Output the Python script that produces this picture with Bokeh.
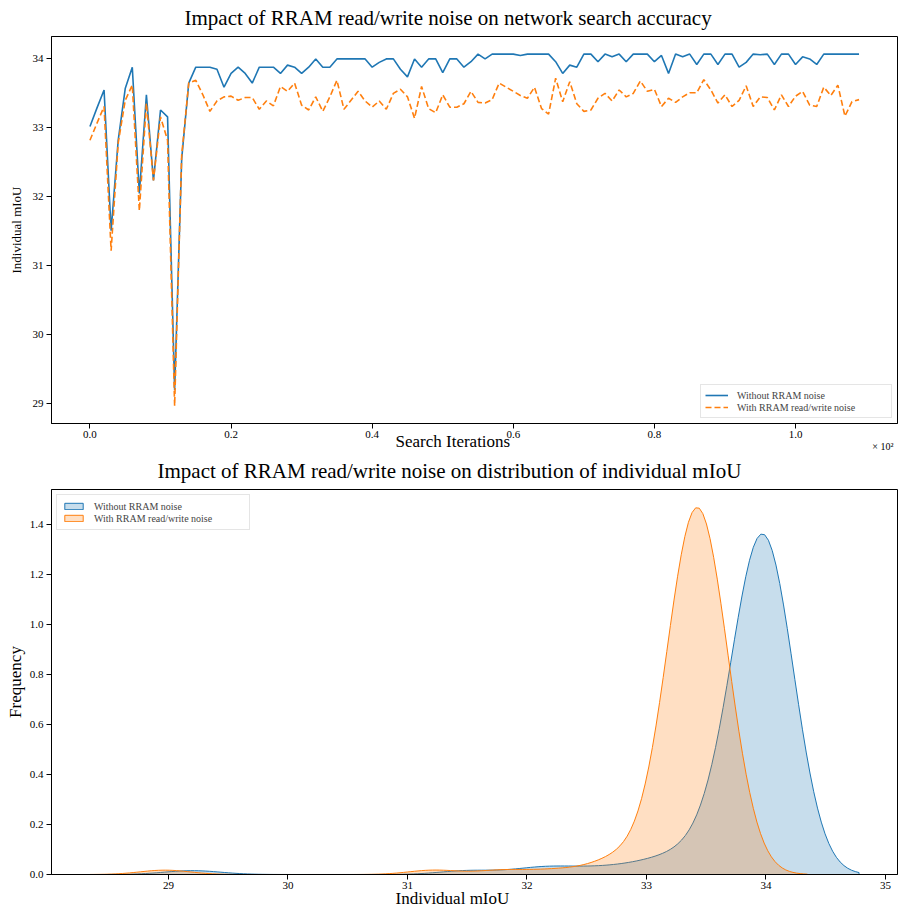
import numpy as np
from bokeh.plotting import figure
from bokeh.models import Range1d, Legend, FixedTicker, PrintfTickFormatter, Title
from bokeh.layouts import column
from bokeh.embed import file_html
from bokeh.resources import INLINE

# ---------------- data ----------------
iterations = list(range(110))

miou_clean = [
    33.02, 33.29, 33.55, 31.51, 32.82, 33.57, 33.88, 32.05, 33.48, 32.24,
    33.26, 33.16, 29.20, 32.55, 33.65, 33.88, 33.88, 33.88, 33.85, 33.59,
    33.79, 33.88, 33.79, 33.65, 33.88, 33.88, 33.88, 33.79, 33.91, 33.88,
    33.79, 33.88, 34.00, 33.88, 33.88, 34.00, 34.00, 34.00, 34.00, 34.00,
    33.88, 33.95, 34.00, 34.00, 33.85, 33.74, 34.00, 33.88, 34.00, 34.00,
    33.80, 34.00, 34.00, 33.88, 33.96, 34.07, 34.00, 34.07, 34.07, 34.07,
    34.07, 34.05, 34.07, 34.07, 34.07, 34.07, 33.96, 33.79, 33.91, 33.88,
    34.07, 34.07, 33.96, 34.07, 34.03, 34.07, 33.96, 34.07, 34.07, 34.07,
    33.96, 34.05, 33.79, 34.07, 34.03, 34.07, 33.92, 34.07, 34.07, 33.92,
    34.07, 34.07, 33.88, 33.95, 34.07, 34.06, 34.07, 33.92, 34.07, 34.07,
    33.92, 34.03, 34.00, 33.92, 34.07, 34.07, 34.07, 34.07, 34.07, 34.07,
]

miou_noisy = [
    32.82, 33.07, 33.31, 31.22, 32.78, 33.40, 33.62, 31.80, 33.36, 32.24,
    33.16, 32.82, 28.97, 32.60, 33.65, 33.69, 33.48, 33.24, 33.39, 33.45,
    33.46, 33.40, 33.44, 33.44, 33.27, 33.39, 33.32, 33.60, 33.53, 33.65,
    33.33, 33.26, 33.45, 33.24, 33.45, 33.69, 33.27, 33.40, 33.53, 33.39,
    33.30, 33.39, 33.27, 33.50, 33.56, 33.45, 33.14, 33.60, 33.28, 33.22,
    33.48, 33.30, 33.30, 33.35, 33.53, 33.37, 33.36, 33.41, 33.65, 33.59,
    33.53, 33.47, 33.43, 33.59, 33.28, 33.20, 33.72, 33.38, 33.67, 33.35,
    33.24, 33.26, 33.43, 33.50, 33.39, 33.55, 33.45, 33.50, 33.68, 33.53,
    33.56, 33.31, 33.43, 33.37, 33.45, 33.51, 33.51, 33.70, 33.55, 33.36,
    33.48, 33.31, 33.40, 33.61, 33.31, 33.45, 33.44, 33.26, 33.48, 33.31,
    33.46, 33.53, 33.33, 33.31, 33.59, 33.47, 33.62, 33.17, 33.38, 33.41,
]

series_names = ["Without RRAM noise", "With RRAM read/write noise"]
top_xticks = [0, 20, 40, 60, 80, 100]
top_xtick_labels = ["0.0", "0.2", "0.4", "0.6", "0.8", "1.0"]
top_yticks = [29, 30, 31, 32, 33, 34]
bottom_xticks = [29, 30, 31, 32, 33, 34, 35]
bottom_yticks = [0.0, 0.2, 0.4, 0.6, 0.8, 1.0, 1.2, 1.4]

BLUE = "#1f77b4"
ORANGE = "#ff7f0e"
FONT = "Liberation Serif"

# ---------------- KDE (gaussian, Scott bandwidth, cut=3) ----------------
def kde(data, gridsize=200, cut=3):
    d = np.asarray(data, dtype=float)
    n = len(d)
    bw = d.std(ddof=1) * n ** (-0.2)
    xs = np.linspace(d.min() - cut * bw, d.max() + cut * bw, gridsize)
    ys = np.exp(-0.5 * ((xs[:, None] - d[None, :]) / bw) ** 2).sum(axis=1) / (n * bw * np.sqrt(2 * np.pi))
    return xs, ys

kx_c, ky_c = kde(miou_clean)
kx_n, ky_n = kde(miou_noisy)

def margins(lo, hi, frac=0.05):
    s = hi - lo
    return lo - frac * s, hi + frac * s

x1 = margins(min(iterations), max(iterations))
y1 = margins(min(min(miou_clean), min(miou_noisy)), max(max(miou_clean), max(miou_noisy)))
x2 = margins(min(kx_c.min(), kx_n.min()), max(kx_c.max(), kx_n.max()))
y2 = (0.0, 1.05 * max(ky_c.max(), ky_n.max()))

W = 898
H1 = 454
H2 = 909 - H1

def style(p):
    p.xgrid.visible = False
    p.ygrid.visible = False
    p.outline_line_color = "black"
    p.outline_line_width = 1
    p.outline_line_alpha = 1
    for ax in (p.xaxis[0], p.yaxis[0]):
        ax.axis_line_color = "black"
        ax.major_tick_line_color = "black"
        ax.major_tick_out = 5
        ax.major_tick_in = 0
        ax.minor_tick_line_color = None
        ax.major_label_text_font = FONT
        ax.major_label_text_font_size = "11px"
        ax.major_label_text_color = "black"
    p.xaxis[0].major_label_standoff = 2
    p.yaxis[0].major_label_standoff = 3

def legend_style(lg, pad):
    lg.label_text_font = FONT
    lg.label_text_font_size = "10px"
    lg.glyph_width = 23
    lg.glyph_height = 8
    lg.label_height = 12
    lg.label_width = 150
    lg.label_standoff = 9
    lg.spacing = 0
    lg.padding = pad
    lg.margin = 5
    lg.border_line_color = "#cccccc"
    lg.border_line_width = 1
    lg.background_fill_alpha = 1

def text_title(text, size, align="left", offset=0, valign="top", standoff=0):
    return Title(text=text, align=align, offset=offset, vertical_align=valign, standoff=standoff,
                 text_font=FONT, text_font_size=size, text_font_style="normal", text_color="black")

# ---------------- top figure ----------------
p1 = figure(width=W, height=H1, x_range=Range1d(*x1), y_range=Range1d(*y1),
            output_backend="svg", toolbar_location=None, title=None,
            min_border_left=48, min_border_right=1, min_border_top=36, min_border_bottom=31)
style(p1)
p1.xaxis.ticker = FixedTicker(ticks=top_xticks)
p1.xaxis.major_label_overrides = {t: l for t, l in zip(top_xticks, top_xtick_labels)}
p1.yaxis.ticker = FixedTicker(ticks=top_yticks)

r_c = p1.line(iterations, miou_clean, line_color=BLUE, line_width=1.6)
r_n = p1.line(iterations, miou_noisy, line_color=ORANGE, line_width=1.6, line_dash="6 3")

lg1 = Legend(items=[(series_names[0], [r_c]), (series_names[1], [r_n])], location="bottom_right")
legend_style(lg1, 4)
p1.add_layout(lg1)

p1.add_layout(text_title("Impact of RRAM read/write noise on network search accuracy", "21px",
                         offset=133, valign="top", standoff=10), "above")
p1.add_layout(text_title("Search Iterations", "17px", offset=344, valign="top", standoff=-18), "below")
p1.add_layout(text_title("× 10²", "10px", align="right", offset=4, valign="top", standoff=-6), "below")
p1.add_layout(text_title("Individual mIoU", "13px", align="center", valign="bottom", standoff=12), "left")

# ---------------- bottom figure ----------------
p2 = figure(width=W, height=H2, x_range=Range1d(*x2), y_range=Range1d(*y2),
            output_backend="svg", toolbar_location=None, title=None,
            min_border_left=48, min_border_right=1, min_border_top=34, min_border_bottom=35)
style(p2)
p2.xaxis.ticker = FixedTicker(ticks=bottom_xticks)
p2.yaxis.ticker = FixedTicker(ticks=bottom_yticks)
p2.yaxis.formatter = PrintfTickFormatter(format="%.1f")

def poly(xs, ys):
    return np.concatenate([xs, xs[::-1]]), np.concatenate([ys, np.zeros_like(ys)])

px_c, py_c = poly(kx_c, ky_c)
px_n, py_n = poly(kx_n, ky_n)
k_c = p2.patch(px_c, py_c, fill_color=BLUE, fill_alpha=0.25, line_color=BLUE, line_width=1)
k_n = p2.patch(px_n, py_n, fill_color=ORANGE, fill_alpha=0.25, line_color=ORANGE, line_width=1)

lg2 = Legend(items=[(series_names[0], [k_c]), (series_names[1], [k_n])], location="top_left")
legend_style(lg2, 5)
p2.add_layout(lg2)

p2.add_layout(text_title("Impact of RRAM read/write noise on distribution of individual mIoU", "21px",
                         offset=106, valign="top", standoff=9), "above")
p2.add_layout(text_title("Individual mIoU", "17px", offset=344, valign="top", standoff=-6), "below")
p2.add_layout(text_title("Frequency", "17px", align="center", valign="bottom", standoff=4), "left")

layout = column(p1, p2, spacing=0)
open("out.html", "w").write(file_html(layout, INLINE))
